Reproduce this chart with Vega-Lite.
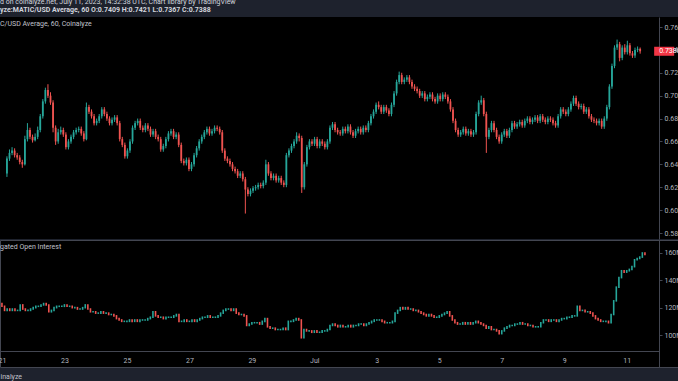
{
"$schema": "https://vega.github.io/schema/vega-lite/v6.json",
"background": "#1e222d",
"autosize": {"type": "none"},
"padding": {"left": 0, "top": 17, "right": 678, "bottom": 364},
"config": {"font": "Roboto", "view": {"stroke": null}, "concat": {"spacing": 0}, "axis": {"labelOverlap": false, "labelBound": false}},
"spacing": 0,
"title": {"text": "d on coinalyze.net, July 11, 2023, 14:32:38 UTC, Chart library by TradingView", "subtitle": "yze:MATIC/USD Average, 60 O:0.7409 H:0.7421 L:0.7367 C:0.7388", "anchor": "start", "frame": "group", "fontSize": 7, "fontWeight": "normal", "color": "#d1d4dc", "subtitleFontSize": 7, "subtitleFontWeight": "bold", "subtitleColor": "#d1d4dc", "subtitlePadding": 1, "offset": 4},
"data": {"values": [
{"t":0,"o":0.632,"h":0.647,"l":0.629,"c":0.645,"a":123,"b":121},
{"t":2,"o":0.645,"h":0.653,"l":0.643,"c":0.650,"a":121,"b":118},
{"t":4,"o":0.650,"h":0.655,"l":0.648,"c":0.652,"a":118,"b":119},
{"t":6,"o":0.652,"h":0.654,"l":0.646,"c":0.648,"a":119,"b":118},
{"t":8,"o":0.648,"h":0.650,"l":0.644,"c":0.646,"a":118,"b":119},
{"t":10,"o":0.646,"h":0.648,"l":0.640,"c":0.642,"a":119,"b":118},
{"t":12,"o":0.642,"h":0.644,"l":0.637,"c":0.640,"a":118,"b":118},
{"t":14,"o":0.640,"h":0.665,"l":0.639,"c":0.662,"a":118,"b":122},
{"t":16,"o":0.662,"h":0.676,"l":0.660,"c":0.670,"a":122,"b":119},
{"t":18,"o":0.670,"h":0.672,"l":0.662,"c":0.664,"a":119,"b":118},
{"t":20,"o":0.664,"h":0.666,"l":0.659,"c":0.661,"a":118,"b":118},
{"t":22,"o":0.661,"h":0.667,"l":0.660,"c":0.664,"a":118,"b":119},
{"t":24,"o":0.664,"h":0.673,"l":0.662,"c":0.670,"a":119,"b":120},
{"t":26,"o":0.670,"h":0.684,"l":0.668,"c":0.682,"a":120,"b":121},
{"t":28,"o":0.682,"h":0.697,"l":0.680,"c":0.695,"a":121,"b":121},
{"t":30,"o":0.695,"h":0.707,"l":0.693,"c":0.705,"a":121,"b":122},
{"t":32,"o":0.705,"h":0.710,"l":0.698,"c":0.700,"a":122,"b":123},
{"t":34,"o":0.700,"h":0.703,"l":0.692,"c":0.694,"a":123,"b":122},
{"t":36,"o":0.694,"h":0.696,"l":0.668,"c":0.672,"a":122,"b":117},
{"t":38,"o":0.672,"h":0.674,"l":0.657,"c":0.660,"a":117,"b":118},
{"t":40,"o":0.660,"h":0.671,"l":0.658,"c":0.668,"a":118,"b":120},
{"t":42,"o":0.668,"h":0.673,"l":0.666,"c":0.670,"a":120,"b":121},
{"t":44,"o":0.670,"h":0.672,"l":0.664,"c":0.666,"a":121,"b":121},
{"t":46,"o":0.666,"h":0.668,"l":0.653,"c":0.655,"a":121,"b":121},
{"t":48,"o":0.655,"h":0.662,"l":0.653,"c":0.660,"a":121,"b":122},
{"t":50,"o":0.660,"h":0.666,"l":0.658,"c":0.664,"a":122,"b":121},
{"t":52,"o":0.664,"h":0.670,"l":0.662,"c":0.668,"a":121,"b":121},
{"t":54,"o":0.668,"h":0.672,"l":0.666,"c":0.670,"a":121,"b":120},
{"t":56,"o":0.670,"h":0.673,"l":0.668,"c":0.671,"a":120,"b":120},
{"t":58,"o":0.671,"h":0.673,"l":0.665,"c":0.667,"a":120,"b":119},
{"t":60,"o":0.667,"h":0.669,"l":0.660,"c":0.662,"a":119,"b":119},
{"t":62,"o":0.662,"h":0.694,"l":0.661,"c":0.690,"a":119,"b":120},
{"t":64,"o":0.690,"h":0.692,"l":0.684,"c":0.686,"a":120,"b":122},
{"t":66,"o":0.686,"h":0.688,"l":0.680,"c":0.682,"a":122,"b":119},
{"t":68,"o":0.682,"h":0.684,"l":0.674,"c":0.676,"a":119,"b":117},
{"t":70,"o":0.676,"h":0.680,"l":0.674,"c":0.678,"a":117,"b":117},
{"t":72,"o":0.678,"h":0.684,"l":0.676,"c":0.682,"a":117,"b":116},
{"t":74,"o":0.682,"h":0.690,"l":0.680,"c":0.688,"a":116,"b":116},
{"t":76,"o":0.688,"h":0.690,"l":0.682,"c":0.684,"a":116,"b":117},
{"t":78,"o":0.684,"h":0.686,"l":0.678,"c":0.680,"a":117,"b":116},
{"t":80,"o":0.680,"h":0.682,"l":0.674,"c":0.676,"a":116,"b":116},
{"t":82,"o":0.676,"h":0.681,"l":0.674,"c":0.679,"a":116,"b":115},
{"t":84,"o":0.679,"h":0.683,"l":0.677,"c":0.681,"a":115,"b":115},
{"t":86,"o":0.681,"h":0.683,"l":0.674,"c":0.676,"a":115,"b":114},
{"t":88,"o":0.676,"h":0.678,"l":0.660,"c":0.662,"a":114,"b":112},
{"t":90,"o":0.662,"h":0.664,"l":0.655,"c":0.657,"a":112,"b":111},
{"t":92,"o":0.657,"h":0.659,"l":0.645,"c":0.647,"a":111,"b":110},
{"t":94,"o":0.647,"h":0.654,"l":0.645,"c":0.652,"a":110,"b":110},
{"t":96,"o":0.652,"h":0.662,"l":0.650,"c":0.660,"a":110,"b":110},
{"t":98,"o":0.660,"h":0.674,"l":0.658,"c":0.672,"a":110,"b":111},
{"t":100,"o":0.672,"h":0.678,"l":0.670,"c":0.676,"a":111,"b":110},
{"t":102,"o":0.676,"h":0.680,"l":0.674,"c":0.678,"a":110,"b":111},
{"t":104,"o":0.678,"h":0.680,"l":0.670,"c":0.672,"a":111,"b":110},
{"t":106,"o":0.672,"h":0.674,"l":0.668,"c":0.670,"a":110,"b":111},
{"t":108,"o":0.670,"h":0.676,"l":0.668,"c":0.674,"a":111,"b":111},
{"t":110,"o":0.674,"h":0.676,"l":0.669,"c":0.671,"a":111,"b":111},
{"t":112,"o":0.671,"h":0.673,"l":0.664,"c":0.666,"a":111,"b":112},
{"t":114,"o":0.666,"h":0.671,"l":0.664,"c":0.669,"a":112,"b":113},
{"t":116,"o":0.669,"h":0.671,"l":0.662,"c":0.664,"a":113,"b":117},
{"t":118,"o":0.664,"h":0.666,"l":0.660,"c":0.662,"a":117,"b":114},
{"t":120,"o":0.662,"h":0.664,"l":0.651,"c":0.653,"a":114,"b":113},
{"t":122,"o":0.653,"h":0.658,"l":0.651,"c":0.656,"a":113,"b":113},
{"t":124,"o":0.656,"h":0.664,"l":0.654,"c":0.662,"a":113,"b":112},
{"t":126,"o":0.662,"h":0.669,"l":0.660,"c":0.667,"a":112,"b":113},
{"t":128,"o":0.667,"h":0.671,"l":0.665,"c":0.669,"a":113,"b":113},
{"t":130,"o":0.669,"h":0.671,"l":0.662,"c":0.664,"a":113,"b":113},
{"t":132,"o":0.664,"h":0.668,"l":0.662,"c":0.666,"a":113,"b":114},
{"t":134,"o":0.666,"h":0.668,"l":0.655,"c":0.657,"a":114,"b":115},
{"t":136,"o":0.657,"h":0.659,"l":0.641,"c":0.643,"a":115,"b":110},
{"t":138,"o":0.643,"h":0.645,"l":0.639,"c":0.641,"a":110,"b":110},
{"t":140,"o":0.641,"h":0.646,"l":0.639,"c":0.644,"a":110,"b":111},
{"t":142,"o":0.644,"h":0.646,"l":0.634,"c":0.636,"a":111,"b":110},
{"t":144,"o":0.636,"h":0.642,"l":0.634,"c":0.640,"a":110,"b":110},
{"t":146,"o":0.640,"h":0.650,"l":0.638,"c":0.648,"a":110,"b":111},
{"t":148,"o":0.648,"h":0.656,"l":0.646,"c":0.654,"a":111,"b":110},
{"t":150,"o":0.654,"h":0.662,"l":0.652,"c":0.660,"a":110,"b":111},
{"t":152,"o":0.660,"h":0.666,"l":0.658,"c":0.664,"a":111,"b":112},
{"t":154,"o":0.664,"h":0.670,"l":0.662,"c":0.668,"a":112,"b":113},
{"t":156,"o":0.668,"h":0.673,"l":0.666,"c":0.671,"a":113,"b":113},
{"t":158,"o":0.671,"h":0.673,"l":0.665,"c":0.667,"a":113,"b":114},
{"t":160,"o":0.667,"h":0.671,"l":0.665,"c":0.669,"a":114,"b":113},
{"t":162,"o":0.669,"h":0.674,"l":0.667,"c":0.672,"a":113,"b":113},
{"t":164,"o":0.672,"h":0.674,"l":0.669,"c":0.671,"a":113,"b":113},
{"t":166,"o":0.671,"h":0.673,"l":0.666,"c":0.668,"a":113,"b":114},
{"t":168,"o":0.668,"h":0.670,"l":0.650,"c":0.652,"a":114,"b":116},
{"t":170,"o":0.652,"h":0.654,"l":0.643,"c":0.645,"a":116,"b":118},
{"t":172,"o":0.645,"h":0.647,"l":0.641,"c":0.643,"a":118,"b":119},
{"t":174,"o":0.643,"h":0.645,"l":0.638,"c":0.640,"a":119,"b":119},
{"t":176,"o":0.640,"h":0.642,"l":0.634,"c":0.636,"a":119,"b":118},
{"t":178,"o":0.636,"h":0.638,"l":0.632,"c":0.634,"a":118,"b":119},
{"t":180,"o":0.634,"h":0.636,"l":0.628,"c":0.630,"a":119,"b":116},
{"t":182,"o":0.630,"h":0.634,"l":0.628,"c":0.632,"a":116,"b":115},
{"t":184,"o":0.632,"h":0.634,"l":0.625,"c":0.627,"a":115,"b":115},
{"t":186,"o":0.627,"h":0.629,"l":0.597,"c":0.618,"a":115,"b":114},
{"t":188,"o":0.618,"h":0.620,"l":0.612,"c":0.614,"a":114,"b":107},
{"t":190,"o":0.614,"h":0.619,"l":0.612,"c":0.617,"a":107,"b":108},
{"t":192,"o":0.617,"h":0.621,"l":0.615,"c":0.619,"a":108,"b":109},
{"t":194,"o":0.619,"h":0.622,"l":0.617,"c":0.620,"a":109,"b":109},
{"t":196,"o":0.620,"h":0.624,"l":0.618,"c":0.622,"a":109,"b":109},
{"t":198,"o":0.622,"h":0.624,"l":0.619,"c":0.621,"a":109,"b":108},
{"t":200,"o":0.621,"h":0.626,"l":0.619,"c":0.624,"a":108,"b":110},
{"t":202,"o":0.624,"h":0.644,"l":0.622,"c":0.640,"a":110,"b":112},
{"t":204,"o":0.640,"h":0.642,"l":0.630,"c":0.632,"a":112,"b":106},
{"t":206,"o":0.632,"h":0.634,"l":0.626,"c":0.628,"a":106,"b":105},
{"t":208,"o":0.628,"h":0.632,"l":0.626,"c":0.630,"a":105,"b":105},
{"t":210,"o":0.630,"h":0.632,"l":0.624,"c":0.626,"a":105,"b":104},
{"t":212,"o":0.626,"h":0.630,"l":0.624,"c":0.628,"a":104,"b":104},
{"t":214,"o":0.628,"h":0.630,"l":0.622,"c":0.624,"a":104,"b":104},
{"t":216,"o":0.624,"h":0.626,"l":0.620,"c":0.622,"a":104,"b":105},
{"t":218,"o":0.622,"h":0.650,"l":0.620,"c":0.648,"a":105,"b":104},
{"t":220,"o":0.648,"h":0.654,"l":0.646,"c":0.652,"a":104,"b":110},
{"t":222,"o":0.652,"h":0.658,"l":0.650,"c":0.656,"a":110,"b":110},
{"t":224,"o":0.656,"h":0.662,"l":0.654,"c":0.660,"a":110,"b":111},
{"t":226,"o":0.660,"h":0.668,"l":0.658,"c":0.665,"a":111,"b":112},
{"t":228,"o":0.665,"h":0.667,"l":0.660,"c":0.663,"a":112,"b":111},
{"t":230,"o":0.663,"h":0.665,"l":0.615,"c":0.620,"a":111,"b":98},
{"t":232,"o":0.620,"h":0.642,"l":0.618,"c":0.640,"a":98,"b":104},
{"t":234,"o":0.640,"h":0.657,"l":0.638,"c":0.655,"a":104,"b":103},
{"t":236,"o":0.655,"h":0.662,"l":0.653,"c":0.660,"a":103,"b":103},
{"t":238,"o":0.660,"h":0.662,"l":0.656,"c":0.658,"a":103,"b":102},
{"t":240,"o":0.658,"h":0.664,"l":0.656,"c":0.662,"a":102,"b":103},
{"t":242,"o":0.662,"h":0.664,"l":0.654,"c":0.656,"a":103,"b":102},
{"t":244,"o":0.656,"h":0.662,"l":0.654,"c":0.660,"a":102,"b":102},
{"t":246,"o":0.660,"h":0.662,"l":0.656,"c":0.658,"a":102,"b":103},
{"t":248,"o":0.658,"h":0.660,"l":0.653,"c":0.655,"a":103,"b":103},
{"t":250,"o":0.655,"h":0.662,"l":0.653,"c":0.660,"a":103,"b":104},
{"t":252,"o":0.660,"h":0.674,"l":0.658,"c":0.672,"a":104,"b":107},
{"t":254,"o":0.672,"h":0.677,"l":0.670,"c":0.675,"a":107,"b":108},
{"t":256,"o":0.675,"h":0.677,"l":0.668,"c":0.670,"a":108,"b":107},
{"t":258,"o":0.670,"h":0.672,"l":0.666,"c":0.668,"a":107,"b":106},
{"t":260,"o":0.668,"h":0.670,"l":0.665,"c":0.667,"a":106,"b":107},
{"t":262,"o":0.667,"h":0.673,"l":0.665,"c":0.671,"a":107,"b":106},
{"t":264,"o":0.671,"h":0.673,"l":0.667,"c":0.669,"a":106,"b":106},
{"t":266,"o":0.669,"h":0.675,"l":0.667,"c":0.673,"a":106,"b":107},
{"t":268,"o":0.673,"h":0.675,"l":0.666,"c":0.668,"a":107,"b":106},
{"t":270,"o":0.668,"h":0.670,"l":0.663,"c":0.665,"a":106,"b":107},
{"t":272,"o":0.665,"h":0.671,"l":0.663,"c":0.669,"a":107,"b":107},
{"t":274,"o":0.669,"h":0.673,"l":0.667,"c":0.671,"a":107,"b":108},
{"t":276,"o":0.671,"h":0.673,"l":0.666,"c":0.668,"a":108,"b":108},
{"t":278,"o":0.668,"h":0.674,"l":0.666,"c":0.672,"a":108,"b":107},
{"t":280,"o":0.672,"h":0.674,"l":0.668,"c":0.670,"a":107,"b":108},
{"t":282,"o":0.670,"h":0.678,"l":0.668,"c":0.676,"a":108,"b":109},
{"t":284,"o":0.676,"h":0.684,"l":0.674,"c":0.682,"a":109,"b":110},
{"t":286,"o":0.682,"h":0.688,"l":0.680,"c":0.686,"a":110,"b":111},
{"t":288,"o":0.686,"h":0.694,"l":0.684,"c":0.692,"a":111,"b":111},
{"t":290,"o":0.692,"h":0.695,"l":0.688,"c":0.690,"a":111,"b":111},
{"t":292,"o":0.690,"h":0.692,"l":0.684,"c":0.686,"a":111,"b":110},
{"t":294,"o":0.686,"h":0.692,"l":0.684,"c":0.690,"a":110,"b":109},
{"t":296,"o":0.690,"h":0.692,"l":0.685,"c":0.687,"a":109,"b":109},
{"t":298,"o":0.687,"h":0.689,"l":0.682,"c":0.684,"a":109,"b":109},
{"t":300,"o":0.684,"h":0.694,"l":0.682,"c":0.692,"a":109,"b":110},
{"t":302,"o":0.692,"h":0.704,"l":0.690,"c":0.702,"a":110,"b":116},
{"t":304,"o":0.702,"h":0.714,"l":0.700,"c":0.712,"a":116,"b":118},
{"t":306,"o":0.712,"h":0.721,"l":0.710,"c":0.718,"a":118,"b":120},
{"t":308,"o":0.718,"h":0.720,"l":0.710,"c":0.712,"a":120,"b":119},
{"t":310,"o":0.712,"h":0.716,"l":0.710,"c":0.714,"a":119,"b":120},
{"t":312,"o":0.714,"h":0.718,"l":0.712,"c":0.716,"a":120,"b":119},
{"t":314,"o":0.716,"h":0.718,"l":0.710,"c":0.712,"a":119,"b":119},
{"t":316,"o":0.712,"h":0.714,"l":0.706,"c":0.708,"a":119,"b":118},
{"t":318,"o":0.708,"h":0.710,"l":0.704,"c":0.706,"a":118,"b":118},
{"t":320,"o":0.706,"h":0.708,"l":0.702,"c":0.704,"a":118,"b":117},
{"t":322,"o":0.704,"h":0.706,"l":0.698,"c":0.700,"a":117,"b":116},
{"t":324,"o":0.700,"h":0.704,"l":0.698,"c":0.702,"a":116,"b":115},
{"t":326,"o":0.702,"h":0.704,"l":0.695,"c":0.697,"a":115,"b":114},
{"t":328,"o":0.697,"h":0.701,"l":0.695,"c":0.699,"a":114,"b":115},
{"t":330,"o":0.699,"h":0.703,"l":0.697,"c":0.701,"a":115,"b":114},
{"t":332,"o":0.701,"h":0.703,"l":0.695,"c":0.697,"a":114,"b":113},
{"t":334,"o":0.697,"h":0.699,"l":0.693,"c":0.695,"a":113,"b":113},
{"t":336,"o":0.695,"h":0.702,"l":0.693,"c":0.700,"a":113,"b":114},
{"t":338,"o":0.700,"h":0.702,"l":0.695,"c":0.697,"a":114,"b":115},
{"t":340,"o":0.697,"h":0.703,"l":0.695,"c":0.701,"a":115,"b":116},
{"t":342,"o":0.701,"h":0.703,"l":0.697,"c":0.699,"a":116,"b":117},
{"t":344,"o":0.699,"h":0.701,"l":0.693,"c":0.695,"a":117,"b":114},
{"t":346,"o":0.695,"h":0.697,"l":0.686,"c":0.688,"a":114,"b":111},
{"t":348,"o":0.688,"h":0.690,"l":0.676,"c":0.678,"a":111,"b":109},
{"t":350,"o":0.678,"h":0.680,"l":0.668,"c":0.670,"a":109,"b":108},
{"t":352,"o":0.670,"h":0.672,"l":0.664,"c":0.666,"a":108,"b":108},
{"t":354,"o":0.666,"h":0.670,"l":0.664,"c":0.668,"a":108,"b":109},
{"t":356,"o":0.668,"h":0.673,"l":0.666,"c":0.671,"a":109,"b":108},
{"t":358,"o":0.671,"h":0.673,"l":0.665,"c":0.667,"a":108,"b":109},
{"t":360,"o":0.667,"h":0.671,"l":0.665,"c":0.669,"a":109,"b":108},
{"t":362,"o":0.669,"h":0.671,"l":0.664,"c":0.666,"a":108,"b":109},
{"t":364,"o":0.666,"h":0.670,"l":0.664,"c":0.668,"a":109,"b":110},
{"t":366,"o":0.668,"h":0.686,"l":0.666,"c":0.684,"a":110,"b":109},
{"t":368,"o":0.684,"h":0.696,"l":0.682,"c":0.694,"a":109,"b":108},
{"t":370,"o":0.694,"h":0.700,"l":0.692,"c":0.696,"a":108,"b":107},
{"t":372,"o":0.696,"h":0.698,"l":0.682,"c":0.684,"a":107,"b":105},
{"t":374,"o":0.684,"h":0.686,"l":0.650,"c":0.664,"a":105,"b":106},
{"t":376,"o":0.664,"h":0.672,"l":0.662,"c":0.670,"a":106,"b":104},
{"t":378,"o":0.670,"h":0.678,"l":0.668,"c":0.676,"a":104,"b":104},
{"t":380,"o":0.676,"h":0.678,"l":0.668,"c":0.670,"a":104,"b":103},
{"t":382,"o":0.670,"h":0.672,"l":0.662,"c":0.664,"a":103,"b":101},
{"t":384,"o":0.664,"h":0.666,"l":0.658,"c":0.660,"a":101,"b":103},
{"t":386,"o":0.660,"h":0.668,"l":0.658,"c":0.666,"a":103,"b":105},
{"t":388,"o":0.666,"h":0.671,"l":0.664,"c":0.669,"a":105,"b":106},
{"t":390,"o":0.669,"h":0.671,"l":0.663,"c":0.665,"a":106,"b":107},
{"t":392,"o":0.665,"h":0.672,"l":0.663,"c":0.670,"a":107,"b":107},
{"t":394,"o":0.670,"h":0.678,"l":0.668,"c":0.676,"a":107,"b":108},
{"t":396,"o":0.676,"h":0.678,"l":0.671,"c":0.673,"a":108,"b":108},
{"t":398,"o":0.673,"h":0.677,"l":0.671,"c":0.675,"a":108,"b":109},
{"t":400,"o":0.675,"h":0.679,"l":0.673,"c":0.677,"a":109,"b":108},
{"t":402,"o":0.677,"h":0.679,"l":0.672,"c":0.674,"a":108,"b":108},
{"t":404,"o":0.674,"h":0.680,"l":0.672,"c":0.678,"a":108,"b":107},
{"t":406,"o":0.678,"h":0.682,"l":0.676,"c":0.680,"a":107,"b":107},
{"t":408,"o":0.680,"h":0.682,"l":0.675,"c":0.677,"a":107,"b":106},
{"t":410,"o":0.677,"h":0.681,"l":0.675,"c":0.679,"a":106,"b":106},
{"t":412,"o":0.679,"h":0.683,"l":0.677,"c":0.681,"a":106,"b":106},
{"t":414,"o":0.681,"h":0.683,"l":0.676,"c":0.678,"a":106,"b":109},
{"t":416,"o":0.678,"h":0.684,"l":0.676,"c":0.682,"a":109,"b":111},
{"t":418,"o":0.682,"h":0.684,"l":0.677,"c":0.679,"a":111,"b":111},
{"t":420,"o":0.679,"h":0.681,"l":0.675,"c":0.677,"a":111,"b":110},
{"t":422,"o":0.677,"h":0.682,"l":0.675,"c":0.680,"a":110,"b":111},
{"t":424,"o":0.680,"h":0.682,"l":0.677,"c":0.679,"a":111,"b":111},
{"t":426,"o":0.679,"h":0.681,"l":0.674,"c":0.676,"a":111,"b":110},
{"t":428,"o":0.676,"h":0.678,"l":0.672,"c":0.674,"a":110,"b":111},
{"t":430,"o":0.674,"h":0.684,"l":0.672,"c":0.682,"a":111,"b":112},
{"t":432,"o":0.682,"h":0.690,"l":0.680,"c":0.688,"a":112,"b":112},
{"t":434,"o":0.688,"h":0.690,"l":0.684,"c":0.686,"a":112,"b":113},
{"t":436,"o":0.686,"h":0.688,"l":0.682,"c":0.684,"a":113,"b":113},
{"t":438,"o":0.684,"h":0.690,"l":0.682,"c":0.688,"a":113,"b":114},
{"t":440,"o":0.688,"h":0.695,"l":0.686,"c":0.693,"a":114,"b":114},
{"t":442,"o":0.693,"h":0.700,"l":0.691,"c":0.698,"a":114,"b":121},
{"t":444,"o":0.698,"h":0.700,"l":0.691,"c":0.693,"a":121,"b":118},
{"t":446,"o":0.693,"h":0.695,"l":0.688,"c":0.690,"a":118,"b":118},
{"t":448,"o":0.690,"h":0.693,"l":0.688,"c":0.691,"a":118,"b":117},
{"t":450,"o":0.691,"h":0.693,"l":0.684,"c":0.686,"a":117,"b":117},
{"t":452,"o":0.686,"h":0.690,"l":0.684,"c":0.688,"a":117,"b":116},
{"t":454,"o":0.688,"h":0.690,"l":0.680,"c":0.682,"a":116,"b":114},
{"t":456,"o":0.682,"h":0.684,"l":0.677,"c":0.679,"a":114,"b":112},
{"t":458,"o":0.679,"h":0.681,"l":0.676,"c":0.678,"a":112,"b":111},
{"t":460,"o":0.678,"h":0.680,"l":0.674,"c":0.676,"a":111,"b":110},
{"t":462,"o":0.676,"h":0.680,"l":0.674,"c":0.678,"a":110,"b":110},
{"t":464,"o":0.678,"h":0.680,"l":0.671,"c":0.673,"a":110,"b":110},
{"t":466,"o":0.673,"h":0.682,"l":0.671,"c":0.680,"a":110,"b":109},
{"t":468,"o":0.680,"h":0.692,"l":0.678,"c":0.690,"a":109,"b":115},
{"t":470,"o":0.690,"h":0.710,"l":0.688,"c":0.708,"a":115,"b":125},
{"t":472,"o":0.708,"h":0.728,"l":0.706,"c":0.726,"a":125,"b":135},
{"t":474,"o":0.726,"h":0.744,"l":0.724,"c":0.742,"a":135,"b":142},
{"t":476,"o":0.742,"h":0.749,"l":0.740,"c":0.745,"a":142,"b":147},
{"t":478,"o":0.745,"h":0.747,"l":0.730,"c":0.733,"a":147,"b":146},
{"t":480,"o":0.733,"h":0.744,"l":0.731,"c":0.742,"a":146,"b":147},
{"t":482,"o":0.742,"h":0.745,"l":0.736,"c":0.738,"a":147,"b":148},
{"t":484,"o":0.738,"h":0.748,"l":0.736,"c":0.744,"a":148,"b":150},
{"t":486,"o":0.744,"h":0.746,"l":0.735,"c":0.737,"a":150,"b":155},
{"t":488,"o":0.737,"h":0.739,"l":0.733,"c":0.735,"a":155,"b":156},
{"t":490,"o":0.735,"h":0.742,"l":0.733,"c":0.740,"a":156,"b":157},
{"t":492,"o":0.740,"h":0.743,"l":0.738,"c":0.7409,"a":157,"b":160},
{"t":494,"o":0.7409,"h":0.7421,"l":0.7367,"c":0.7388,"a":160,"b":159}
]},
"vconcat": [
{
 "width": 678, "height": 222,
 "view": {"fill": "#000000", "stroke": null},
 "title": {"text": "C/USD Average, 60, Coinalyze", "anchor": "start", "frame": "group", "fontSize": 7, "fontWeight": "normal", "color": "#c0c3cc", "offset": -10},
 "encoding": {"x": {"field": "t", "type": "quantitative", "scale": {"domain": [-1.5, 504.8], "range": [0, 659], "nice": false, "zero": false}, "axis": null}},
 "layer": [
  {"mark": {"type": "rule", "strokeWidth": 1},
   "encoding": {
    "y": {"field": "l", "type": "quantitative", "scale": {"domain": [0.57476, 0.76874], "nice": false, "zero": false},
      "axis": {"orient": "right", "offset": -19, "zindex": 0, "values": [0.58,0.60,0.62,0.64,0.66,0.68,0.70,0.72,0.74,0.76], "format": ".2f", "labelOverlap": false, "grid": false, "title": null, "domainColor": "#434651", "tickColor": "#434651", "tickSize": 3, "labelColor": "#b2b5be", "labelFontSize": 7, "labelPadding": 2}},
    "y2": {"field": "h"},
    "color": {"condition": {"test": "datum.c >= datum.o", "value": "#26a69a"}, "value": "#ef5350"}}},
  {"mark": {"type": "bar", "width": 1.8},
   "encoding": {
    "y": {"field": "o", "type": "quantitative",
      "axis": {"orient": "right", "offset": -19, "zindex": 0, "values": [0.58,0.60,0.62,0.64,0.66,0.68,0.70,0.72,0.74,0.76], "format": ".2f", "labelOverlap": false, "grid": false, "title": null, "domainColor": "#434651", "tickColor": "#434651", "tickSize": 3, "labelColor": "#b2b5be", "labelFontSize": 7, "labelPadding": 2}},
    "y2": {"field": "c"},
    "color": {"condition": {"test": "datum.c >= datum.o", "value": "#26a69a"}, "value": "#ef5350"}}},
  {"transform": [{"filter": "datum.t == 494"}],
   "mark": {"type": "point", "shape": "M1.4,-0.45H3.4V0.45H1.4Z", "size": 400, "filled": true, "color": "#f23645", "opacity": 1, "strokeWidth": 0},
   "encoding": {"y": {"field": "c", "type": "quantitative",
      "axis": {"orient": "right", "offset": -19, "zindex": 0, "values": [0.58,0.60,0.62,0.64,0.66,0.68,0.70,0.72,0.74,0.76], "format": ".2f", "labelOverlap": false, "grid": false, "title": null, "domainColor": "#434651", "tickColor": "#434651", "tickSize": 3, "labelColor": "#b2b5be", "labelFontSize": 7, "labelPadding": 2}}}},
  {"transform": [{"filter": "datum.t == 494"}],
   "mark": {"type": "text", "dx": 19, "align": "left", "baseline": "middle", "color": "#ffffff", "fontSize": 7},
   "encoding": {"y": {"field": "c", "type": "quantitative",
      "axis": {"orient": "right", "offset": -19, "zindex": 0, "values": [0.58,0.60,0.62,0.64,0.66,0.68,0.70,0.72,0.74,0.76], "format": ".2f", "labelOverlap": false, "grid": false, "title": null, "domainColor": "#434651", "tickColor": "#434651", "tickSize": 3, "labelColor": "#b2b5be", "labelFontSize": 7, "labelPadding": 2}}, "text": {"value": "0.7388"}}}
 ]
},
{
 "width": 678, "height": 127,
 "view": {"fill": "#000000", "stroke": "#434651", "strokeWidth": 1},
 "title": {"text": "gated Open Interest", "anchor": "start", "frame": "group", "fontSize": 7, "fontWeight": "normal", "color": "#c0c3cc", "offset": -10},
 "mark": {"type": "rule", "strokeWidth": 1.6, "strokeCap": "square"},
 "encoding": {
  "x": {"field": "t", "type": "quantitative", "scale": {"domain": [-1.5, 504.8], "range": [0, 659], "nice": false, "zero": false},
    "axis": {"orient": "bottom", "offset": -16, "values": [0,48,96,144,192,240,288,336,384,432,480], "labelExpr": "datum.value < 240 ? '' + (21 + datum.value / 24) : (datum.value == 240 ? 'Jul' : '' + (datum.value / 24 - 9))", "ticks": false, "grid": false, "domainColor": "#434651", "labelColor": "#b2b5be", "labelFontSize": 7, "labelPadding": 5, "labelFlush": false, "labelOverlap": false, "title": "inalyze", "titleX": 0, "titleY": 25, "titleAlign": "left", "titleBaseline": "middle", "titleAnchor": "start", "titleColor": "#c0c3cc", "titleFontSize": 7, "titleFontWeight": "normal"}},
  "y": {"field": "a", "type": "quantitative", "scale": {"domain": [76.6, 169.5], "nice": false, "zero": false},
    "axis": {"orient": "right", "offset": -19, "values": [100, 120, 140, 160], "labelOverlap": false, "labelExpr": "datum.value + 'M'", "grid": false, "title": null, "domainColor": "#434651", "tickColor": "#434651", "tickSize": 3, "labelColor": "#b2b5be", "labelFontSize": 7, "labelPadding": 2}},
  "y2": {"field": "b"},
  "color": {"condition": {"test": "datum.b >= datum.a", "value": "#26a69a"}, "value": "#ef5350"}
 }
}
]
}
